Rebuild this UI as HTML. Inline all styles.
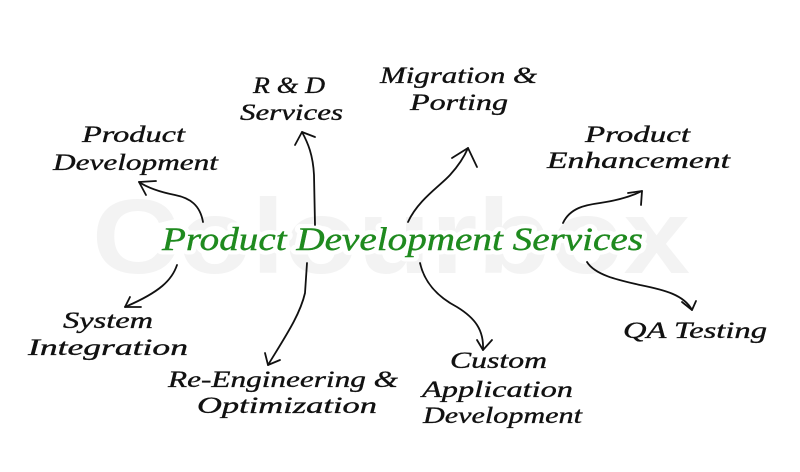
<!DOCTYPE html>
<html>
<head>
<meta charset="utf-8">
<style>
html,body{margin:0;padding:0;background:#fff;}
svg{display:block;}
.lbl{font-family:"Liberation Serif",serif;font-style:italic;font-size:23px;fill:#111;stroke:#111;stroke-width:0.35;}
.ctr{font-family:"Liberation Serif",serif;font-style:italic;font-size:33px;fill:#1f8a1f;stroke:#1f8a1f;stroke-width:0.4;}
.halo{font-family:"Liberation Serif",serif;font-style:italic;font-size:33px;fill:#fff;stroke:#fff;stroke-width:9;stroke-linejoin:round;}
.wm{font-family:"Liberation Sans",sans-serif;font-weight:bold;font-size:106px;fill:#f3f3f3;}
.ln{fill:none;stroke:#111;stroke-width:1.8;stroke-linecap:round;stroke-linejoin:round;}
</style>
</head>
<body>
<svg width="800" height="472" viewBox="0 0 800 472" xmlns="http://www.w3.org/2000/svg">
<rect width="800" height="472" fill="#fff"/>
<text class="wm" x="92" y="273" textLength="598" lengthAdjust="spacingAndGlyphs">Colourbox</text>

<!-- center -->
<text class="halo" x="162" y="250" textLength="481" lengthAdjust="spacingAndGlyphs">Product Development Services</text>
<text class="ctr" x="162" y="250" textLength="481" lengthAdjust="spacingAndGlyphs">Product Development Services</text>

<!-- labels -->
<text class="lbl" x="253" y="93" textLength="72" lengthAdjust="spacingAndGlyphs">R &amp; D</text>
<text class="lbl" x="240" y="120" textLength="103" lengthAdjust="spacingAndGlyphs">Services</text>
<text class="lbl" x="380" y="83" textLength="157" lengthAdjust="spacingAndGlyphs">Migration &amp;</text>
<text class="lbl" x="410" y="110" textLength="98" lengthAdjust="spacingAndGlyphs">Porting</text>
<text class="lbl" x="82" y="142" textLength="103" lengthAdjust="spacingAndGlyphs">Product</text>
<text class="lbl" x="53" y="170" textLength="165" lengthAdjust="spacingAndGlyphs">Development</text>
<text class="lbl" x="585" y="142" textLength="105" lengthAdjust="spacingAndGlyphs">Product</text>
<text class="lbl" x="547" y="168" textLength="183" lengthAdjust="spacingAndGlyphs">Enhancement</text>
<text class="lbl" x="63" y="328" textLength="90" lengthAdjust="spacingAndGlyphs">System</text>
<text class="lbl" x="28" y="355" textLength="160" lengthAdjust="spacingAndGlyphs">Integration</text>
<text class="lbl" x="168" y="387" textLength="230" lengthAdjust="spacingAndGlyphs">Re-Engineering &amp;</text>
<text class="lbl" x="197" y="413" textLength="180" lengthAdjust="spacingAndGlyphs">Optimization</text>
<text class="lbl" x="450" y="368" textLength="97" lengthAdjust="spacingAndGlyphs">Custom</text>
<text class="lbl" x="422" y="397" textLength="151" lengthAdjust="spacingAndGlyphs">Application</text>
<text class="lbl" x="423" y="423" textLength="159" lengthAdjust="spacingAndGlyphs">Development</text>
<text class="lbl" x="623" y="338" textLength="144" lengthAdjust="spacingAndGlyphs">QA Testing</text>

<!-- arrows -->
<path class="ln" d="M203,222 C200,205 190,198 175,195 C160,192 148,188 139,182"/>
<path class="ln" d="M156,181 L139,182 L146,195"/>
<path class="ln" d="M315,225 L314,175 C313,155 308,143 302,132"/>
<path class="ln" d="M295,145 L302,132 L315,137"/>
<path class="ln" d="M408,222 C418,200 440,186 450,175 C460,164 465,155 468,148"/>
<path class="ln" d="M452,158 L468,148 L477,167"/>
<path class="ln" d="M563,223 C570,208 585,205 600,203 C620,200 632,196 642,191"/>
<path class="ln" d="M628,193 L642,191 L641,205"/>
<path class="ln" d="M587,262 C595,275 618,280 640,285 C665,290 684,295 692,310"/>
<path class="ln" d="M682,302 L692,310 L696,301"/>
<path class="ln" d="M420,263 C425,285 440,298 457,307 C475,318 484,330 483,350"/>
<path class="ln" d="M477,340 L483,350 L492,340"/>
<path class="ln" d="M307,263 L305,293 C300,315 285,337 268,365"/>
<path class="ln" d="M265,353 L268,365 L280,360"/>
<path class="ln" d="M177,265 C172,280 160,292 125,307"/>
<path class="ln" d="M130,297 L125,307 L141,307"/>
</svg>
</body>
</html>
